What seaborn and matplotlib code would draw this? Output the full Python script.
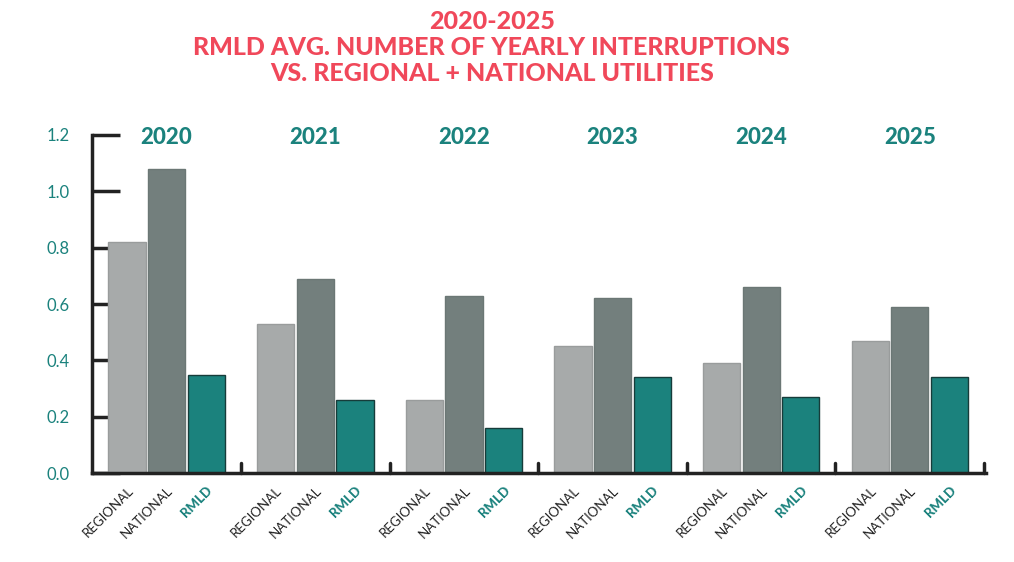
import matplotlib
matplotlib.use("Agg")
import matplotlib.pyplot as plt
import seaborn as sns
import pandas as pd

years = ["2020", "2021", "2022", "2023", "2024", "2025"]
types = ["REGIONAL", "NATIONAL", "RMLD"]
regional = [0.82, 0.53, 0.26, 0.45, 0.39, 0.47]
national = [1.08, 0.69, 0.63, 0.62, 0.66, 0.59]
rmld = [0.35, 0.26, 0.16, 0.34, 0.27, 0.34]

rows = []
for i, y in enumerate(years):
    rows += [(y, "REGIONAL", regional[i]), (y, "NATIONAL", national[i]), (y, "RMLD", rmld[i])]
df = pd.DataFrame(rows, columns=["year", "type", "value"])

sns.set_style("white")
plt.rcParams['font.family'] = ['Lato', 'DejaVu Sans']
teal = "#1b827d"
colors = {"REGIONAL": "#a7aaaa", "NATIONAL": "#737f7d", "RMLD": teal}
edges = {"REGIONAL": "#999c9c", "NATIONAL": "#6b7775", "RMLD": "#163c3a"}

fig = plt.figure(figsize=(10.14, 5.62), dpi=100)
ax = fig.add_axes([0.091, 0.158, 0.881, 0.602])
sns.barplot(data=df, x="year", y="value", hue="type", hue_order=types,
            palette=colors, width=0.8, gap=0.06, ax=ax, legend=False, saturation=1)

centers, labels = [], []
for container, t in zip(ax.containers, types):
    for bar in container:
        bar.set_edgecolor(edges[t]); bar.set_linewidth(1.0)
        centers.append(bar.get_x() + bar.get_width() / 2)
        labels.append(t)
ax.set_xticks(centers)
ax.set_xticklabels(labels, rotation=45, ha="right", rotation_mode="anchor", fontsize=9.5)
for lab in ax.get_xticklabels():
    if lab.get_text() == "RMLD":
        lab.set_color(teal); lab.set_fontweight("black")
    else:
        lab.set_color("#222222")
ax.tick_params(axis="x", length=0, pad=8)

ax.set_xlim(-0.5, 5.51)
ax.set_ylim(0, 1.2)
ax.set_yticks([0, 0.2, 0.4, 0.6, 0.8, 1.0, 1.2])
ax.set_yticklabels(["0.0", "0.2", "0.4", "0.6", "0.8", "1.0", "1.2"], color=teal, fontsize=12)
ax.tick_params(axis="y", left=True, direction="in", length=20, width=2.5, color="#222222", pad=16)
for sp in ["top", "right"]:
    ax.spines[sp].set_visible(False)
for sp in ["left", "bottom"]:
    ax.spines[sp].set_linewidth(2.5); ax.spines[sp].set_color("#222222")
for b in range(6):
    ax.plot([b + 0.5, b + 0.5], [0, 0.035], color="#222222", lw=2.5, clip_on=False)

for i, y in enumerate(years):
    ax.text(i, 1.19, y, ha="center", va="center", color=teal, fontsize=16, fontweight="black")
ax.set_xlabel(""); ax.set_ylabel("")

fig.text(0.485, 0.915, "2020-2025\nRMLD AVG. NUMBER OF YEARLY INTERRUPTIONS\nVS. REGIONAL + NATIONAL UTILITIES",
         ha="center", va="center", color="#f0485a", fontsize=18, fontweight="black", linespacing=1.15)
fig.savefig("out.png", dpi=100)
